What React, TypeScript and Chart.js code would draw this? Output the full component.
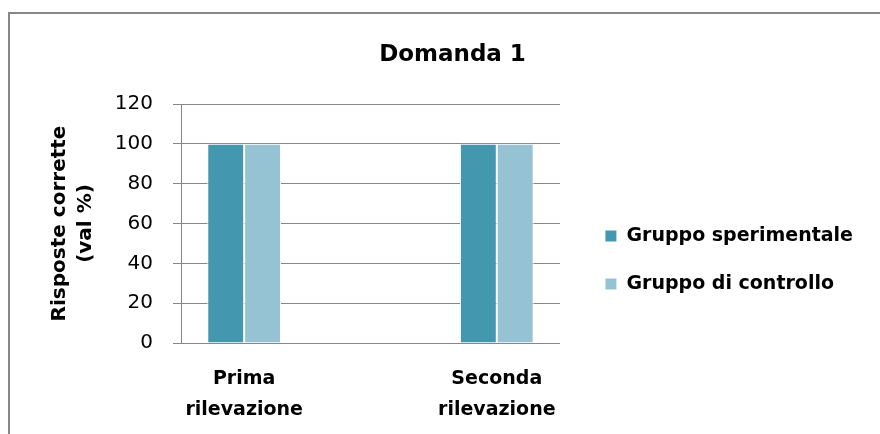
import React, { useEffect, useRef } from 'react';
import { Chart, registerables } from 'chart.js';

Chart.register(...registerables);

const TITLE = 'Domanda 1';
const Y_TITLE = ['Risposte corrette', '(val %)'];
const CATEGORIES = [
  ['Prima', 'rilevazione'],
  ['Seconda', 'rilevazione'],
];
const CATEGORY_POS = [1, 2];
const SERIES_NAMES = ['Gruppo sperimentale', 'Gruppo di controllo'];
const SPERIMENTALE = [100, 100];
const CONTROLLO = [100, 100];
const Y_MIN = 0;
const Y_MAX = 120;
const Y_STEP = 20;

const COLORS = ['#4397AF', '#95C3D4'];
const GRID = '#878787';
const FONT = "'DejaVu Sans', sans-serif";
const PAD_LEFT = 42;

export default function App() {
  const ref = useRef<HTMLCanvasElement | null>(null);

  useEffect(() => {
    if (!ref.current) return;
    const series = [SPERIMENTALE, CONTROLLO];
    const chart = new Chart(ref.current, {
      type: 'bar',
      data: {
        datasets: series.map((vals, si) => ({
          label: SERIES_NAMES[si],
          data: CATEGORY_POS.map((x, i) => ({ x, y: vals[i] })),
          backgroundColor: COLORS[si],
          borderColor: '#ffffff',
          borderWidth: 1,
          categoryPercentage: 0.292,
          barPercentage: 1,
          xAxisID: 'x',
          yAxisID: 'y',
        })),
      },
      options: {
        responsive: false,
        animation: false,
        layout: { padding: { left: PAD_LEFT, top: 0, bottom: 0, right: 17 } },
        font: { family: FONT },
        scales: {
          y: {
            type: 'linear',
            position: 'left',
            min: Y_MIN,
            max: Y_MAX,
            ticks: {
              stepSize: Y_STEP,
              color: '#000',
              padding: 20,
              font: { family: FONT, size: 20 },
            },
            grid: { color: GRID, tickLength: 8, drawTicks: true },
            border: { color: GRID },
            title: {
              display: true,
              text: Y_TITLE,
              color: '#000',
              font: { family: FONT, size: 20, weight: 'bold', lineHeight: 1.3 },
              padding: { top: 47 - PAD_LEFT, bottom: 0 },
            },
            afterFit: (s: any) => {
              s.width = 181 - PAD_LEFT;
            },
          },
          x: {
            type: 'linear',
            position: 'bottom',
            min: 0.75,
            max: 2.25,
            bounds: 'data',
            offset: false,
            grid: { display: false, drawTicks: false },
            border: { display: true, color: GRID },
            afterBuildTicks: (s: any) => {
              s.ticks = CATEGORY_POS.map((v) => ({ value: v }));
            },
            ticks: {
              autoSkip: false,
              maxRotation: 0,
              color: '#000',
              padding: 21,
              font: { family: FONT, size: 19, weight: 'bold', lineHeight: 1.6 },
              callback: (v: any) => {
                const i = CATEGORY_POS.indexOf(Number(v));
                return i >= 0 ? CATEGORIES[i] : '';
              },
            },
            afterFit: (s: any) => {
              s.height = 91;
            },
          },
          yR: {
            type: 'linear',
            position: 'right',
            display: true,
            grid: { display: false, drawTicks: false },
            border: { display: false },
            ticks: { display: false },
            afterFit: (s: any) => {
              s.width = 16;
            },
          },
        },
        plugins: {
          title: {
            display: true,
            text: TITLE,
            color: '#000',
            font: { family: FONT, size: 23, weight: 'bold', lineHeight: 1.2 },
            padding: { top: 41, bottom: 35.4 },
          },
          legend: {
            display: true,
            position: 'right',
            align: 'center',
            maxWidth: 600,
            title: {
              display: true,
              text: '',
              font: { family: FONT, size: 12, lineHeight: 1 },
              padding: { top: 74, bottom: 0 },
            },
            labels: {
              boxWidth: 12,
              boxHeight: 12,
              padding: 29,
              color: '#000',
              font: { family: FONT, size: 19, weight: 'bold' },
            },
          },
          tooltip: { enabled: false },
        },
      } as any,
    });
    return () => chart.destroy();
  }, []);

  return (
    <div style={{ position: 'fixed', left: 0, top: 0, width: 880, height: 434, background: '#fff', overflow: 'hidden' }}>
      <div
        style={{
          position: 'absolute',
          left: 8,
          top: 12,
          width: 872,
          height: 422,
          boxSizing: 'border-box',
          borderLeft: '2px solid #878787',
          borderTop: '2px solid #878787',
        }}
      />
      <canvas ref={ref} width={880} height={434} style={{ position: 'absolute', left: 0, top: 0, width: 880, height: 434 }} />
    </div>
  );
}
